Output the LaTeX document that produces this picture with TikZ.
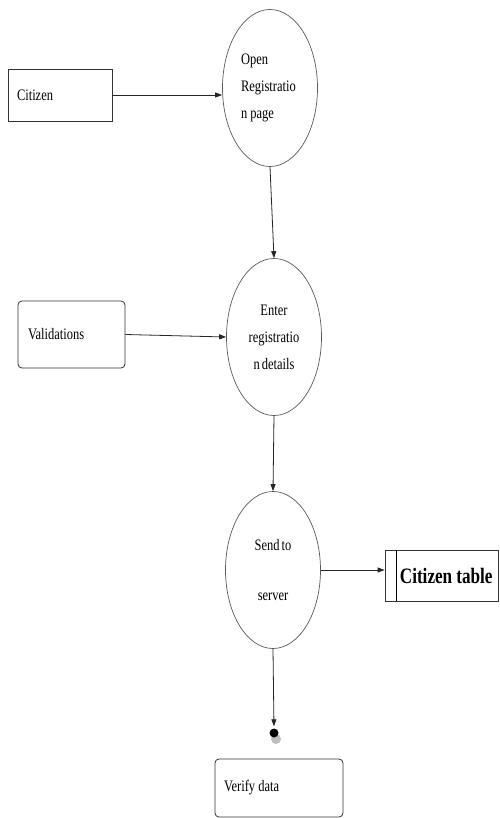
\documentclass[tikz,border=0pt]{standalone}
\usepackage{fontspec}
\setmainfont[FakeStretch=0.78, WordSpace=0.65]{Liberation Serif}
\usetikzlibrary{positioning,arrows.meta,shapes.geometric}
\newcommand{\wsp}[1][3.2pt]{\hspace{#1}}
\tikzset{
  ent/.style={draw=black!80, line width=0.8pt, align=left, font=\fontsize{16}{18}\selectfont, inner xsep=9pt},
  rbox/.style={ent, rounded corners=4pt},
  proc/.style={ellipse, draw=black!65, line width=0.7pt, minimum width=95pt, minimum height=157pt, inner sep=0pt, font=\fontsize{16}{27}\selectfont},
  arr/.style={-{Triangle[length=7pt,width=5pt]}, line width=0.8pt, black!85}}

\begin{document}
\begin{tikzpicture}[x=1pt, y=-1pt]
\useasboundingbox (0,0) rectangle (499,818);
\node[ent, text width=86pt, minimum height=52pt] (citizen) at (60,95) {Citizen};
\node[proc, align=left, text width=58pt] (open) at (270,88) {Open\\Registratio\\n\wsp page};
\node[rbox, text width=87pt, inner xsep=10pt, minimum height=67pt] (valid) at (71.5,334.5) {Validations};
\node[proc, align=center] (enter) at (274,337) {Enter\\registratio\\n details};
\node[proc, align=center, font=\fontsize{16}{50}\selectfont] (send) at (273,570) {Send to\\server};
\node[ent, font=\fontsize{22}{24}\selectfont\bfseries, align=right, text width=102pt, inner xsep=5.5pt, minimum height=51pt] (ctable) at (441.5,575.5) {Citizen\wsp[4pt]table};
\draw[line width=0.8pt] ([xshift=12pt]ctable.north west) -- ([xshift=12pt]ctable.south west);
\node[circle, fill=black!25, minimum size=10pt, inner sep=0pt] (dotshade) at (276,739) {};
\node[circle, fill=black, minimum size=9pt, inner sep=0pt] (enddot) at (274,733) {};
\node[rbox, text width=110pt, minimum height=58pt] (verify) at (279,788) {Verify\wsp data};
\draw[arr] (citizen.east) -- (citizen.east -| open.west);
\draw[arr] (open.south) -- (enter.north);
\draw[arr] (valid.east) -- (enter.west);
\draw[arr] (enter.south) -- (send.north);
\draw[arr] (send.east) -- (send.east -| ctable.west);
\draw[arr, shorten >=2pt] (send.south) -- (enddot.north);
\end{tikzpicture}
\end{document}
